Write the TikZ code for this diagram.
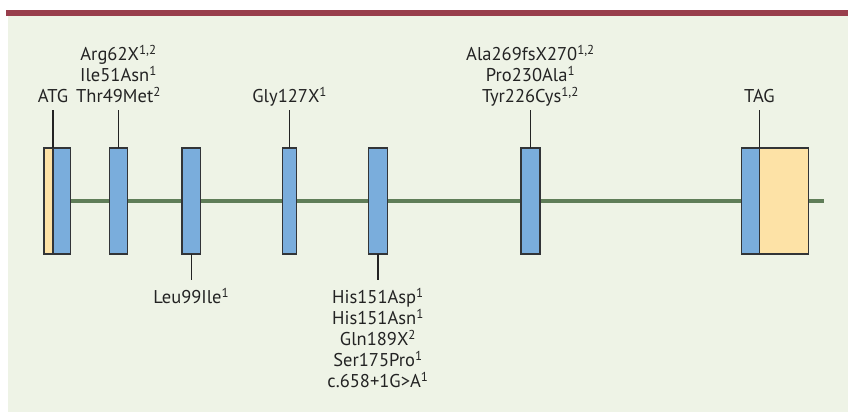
\documentclass[tikz,border=0pt]{standalone}
\usepackage{fontspec}
\setmainfont{PT Sans}
\usetikzlibrary{positioning, backgrounds}

\definecolor{panelbg}{RGB}{238,243,230}
\definecolor{barred}{RGB}{152,62,76}
\definecolor{exonblue}{RGB}{122,173,220}
\definecolor{utryellow}{RGB}{253,226,166}
\definecolor{introngreen}{RGB}{95,125,88}
\definecolor{boxline}{RGB}{50,52,55}
\definecolor{txt}{RGB}{35,35,35}

\begin{document}
\begin{tikzpicture}[x=1pt, y=1pt,
  exon/.style={draw=boxline, line width=1.1pt, fill=exonblue, minimum height=106pt, inner sep=0pt, outer sep=0pt},
  utr/.style={exon, fill=utryellow},
  intron/.style={draw=introngreen, line width=3.6pt},
  tick/.style={draw=txt, line width=1.1pt},
  lbl/.style={font=\fontsize{18.5}{21}\selectfont, text=txt, align=center, inner sep=0pt, text depth=0pt}
]
\useasboundingbox (0,-211) rectangle (848,201);

\node[utr, minimum width=9pt] (utr5) at (48.5,0) {};
\node[exon, minimum width=17.7pt, right=0pt of utr5] (ex1) {};
\node[exon, minimum width=18.4pt] (ex2) at (118.5,0) {};
\node[exon, minimum width=18.7pt] (ex3) at (191.3,0) {};
\node[exon, minimum width=14pt] (ex4) at (289.7,0) {};
\node[exon, minimum width=19.4pt] (ex5) at (378,0) {};
\node[exon, minimum width=19pt] (ex6) at (530.5,0) {};
\node[exon, minimum width=18.3pt] (ex7) at (750.2,0) {};
\node[utr, minimum width=49pt, right=0pt of ex7] (utr3) {};
\coordinate (tail) at (824,0);

\begin{scope}[on background layer]
\fill[panelbg] (8,-211) rectangle (848,185);
\fill[barred] (6,185) rectangle (848,190.5);
\draw[intron] (ex1) -- (ex2);
\draw[intron] (ex2) -- (ex3);
\draw[intron] (ex3) -- (ex4);
\draw[intron] (ex4) -- (ex5);
\draw[intron] (ex5) -- (ex6);
\draw[intron] (ex6) -- (ex7);
\draw[intron] (utr3.east) -- (tail);
\end{scope}

\coordinate[above=38pt of ex1.north west] (t1);
\coordinate[above=38pt of ex2.north] (t2);
\coordinate[below=26pt of ex3.south] (t3);
\coordinate[above=38pt of ex4.north] (t4);
\coordinate[below=26pt of ex5.south] (t5);
\coordinate[above=38pt of ex6.north] (t6);
\coordinate[above=38pt of ex7.north east] (t7);

\draw[tick] (ex1.north west) -- (t1);
\draw[tick] (ex2.north) -- (t2);
\draw[tick] (ex3.south) -- (t3);
\draw[tick] (ex4.north) -- (t4);
\draw[tick] (ex5.south) -- (t5);
\draw[tick] (ex6.north) -- (t6);
\draw[tick] (ex7.north east) -- (t7);

\node[lbl, above=7pt of t1] (atg) {ATG};
\node[lbl, above=7pt of t2] (mut2) {Arg62X\textsuperscript{1,2}\\Ile51Asn\textsuperscript{1}\\Thr49Met\textsuperscript{2}};
\node[lbl, below=8pt of t3, text depth=] (mut3) {Leu99Ile\textsuperscript{1}};
\node[lbl, above=7pt of t4] (mut4) {Gly127X\textsuperscript{1}};
\node[lbl, below=8pt of t5, text depth=] (mut5) {His151Asp\textsuperscript{1}\\His151Asn\textsuperscript{1}\\Gln189X\textsuperscript{2}\\Ser175Pro\textsuperscript{1}\\c.658+1G>A\textsuperscript{1}};
\node[lbl, above=7pt of t6] (mut6) {Ala269fsX270\textsuperscript{1,2}\\Pro230Ala\textsuperscript{1}\\Tyr226Cys\textsuperscript{1,2}};
\node[lbl, above=7pt of t7] (tag) {TAG};

\end{tikzpicture}
\end{document}
